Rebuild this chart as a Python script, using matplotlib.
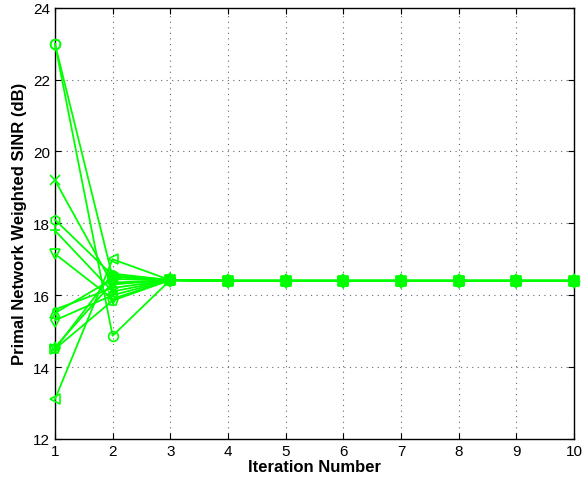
import numpy as np
import matplotlib.pyplot as plt

plt.rcParams['font.family'] = ['Liberation Sans', 'DejaVu Sans']

iterations = np.arange(1, 11)
markers = ['x', 'h', '+', 'v', '.', '^', 'd', '*', '>', '<', 'p', 'o', 'o']

# SINR (dB) at iterations 1, 2 and 3; steady from there on
first = [19.2, 18.1, 17.8, 17.15, 15.6, 15.5, 15.3, 14.55, 14.5, 13.1, 14.5, 23.0, 23.0]
second = [16.3, 16.55, 16.1, 15.9, 16.2, 16.45, 16.0, 16.35, 16.6, 17.0, 15.85, 16.5, 14.87]
third = [16.42] * 13
steady = 16.4

fig = plt.figure(figsize=(5.84, 4.85), dpi=100)
ax = fig.add_axes([0.094, 0.093, 0.889, 0.889])

for i, m in enumerate(markers):
    y = [first[i], second[i], third[i]] + [steady] * 7
    ax.plot(iterations, y, color=(0, 1, 0), marker=m, markersize=7,
            markerfacecolor='none', markeredgewidth=1.2, linewidth=1.3,
            clip_on=False, zorder=3)

ax.set_xlim(1, 10)
ax.set_ylim(12, 24)
ax.set_xticks(range(1, 11))
ax.set_yticks(range(12, 25, 2))
ax.grid(True, linestyle=(0, (1, 4)), color='0.4', linewidth=0.8)
ax.tick_params(direction='in', top=True, right=True, labelsize=11, length=4)
for s in ax.spines.values():
    s.set_linewidth(1.0)
ax.set_xlabel('Iteration Number', fontsize=12, fontweight='bold', labelpad=1)
ax.set_ylabel('Primal Network Weighted SINR (dB)', fontsize=12, fontweight='bold', labelpad=4)

fig.savefig('out.png', dpi=100)
